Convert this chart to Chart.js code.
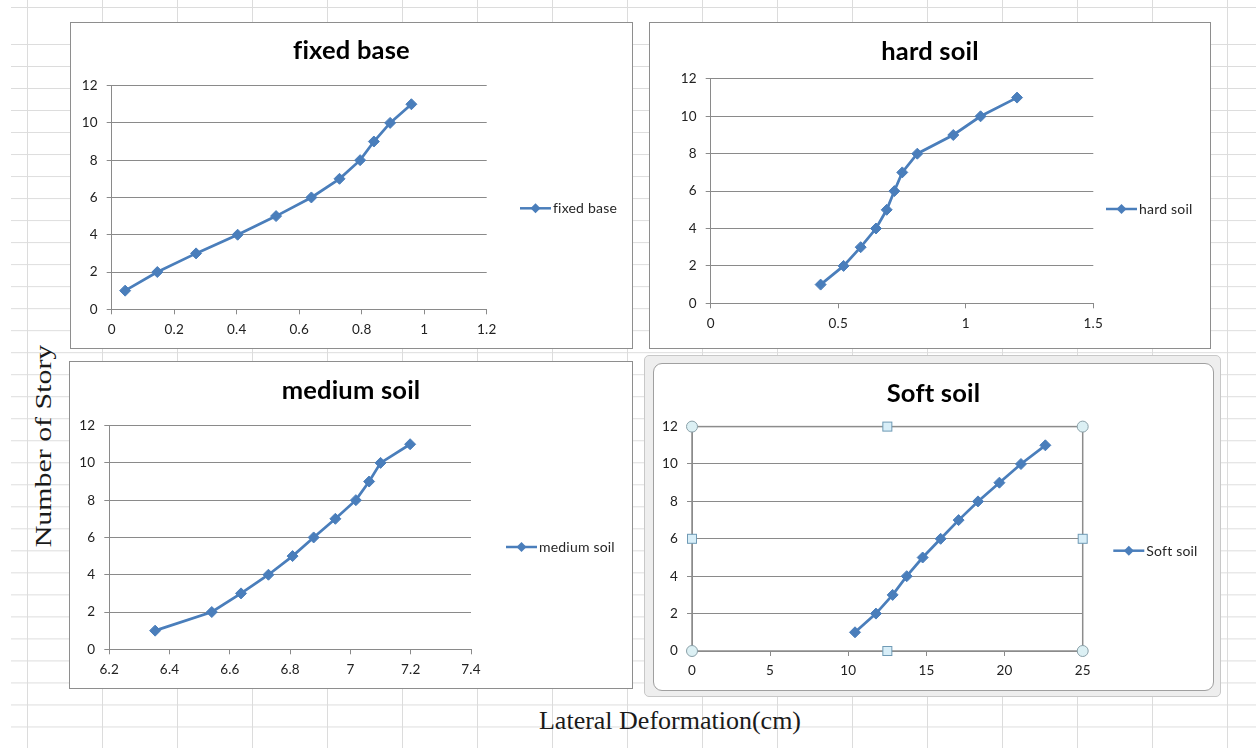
<!DOCTYPE html>
<html><head><meta charset="utf-8">
<script src="https://cdn.jsdelivr.net/npm/chart.js@4.4.1/dist/chart.umd.min.js"></script>
<style>
html,body{margin:0;padding:0;width:1256px;height:748px;overflow:hidden;background:#fff;}
#sheet{position:absolute;left:0;top:0;width:1256px;height:748px;
 background-image:linear-gradient(to right,#dcdcdc 1px,transparent 1px);
 background-size:75px 100%;background-position:27px 0;}
#rows{position:absolute;left:11px;top:44px;right:0;bottom:0;
 background-image:linear-gradient(to bottom,#dcdcdc 1px,transparent 1px);
 background-size:100% 22.02px;}
#row0{position:absolute;left:11px;top:7px;right:0;height:1px;background:#dcdcdc;}
.box{position:absolute;background:#fff;border:1px solid #8e8e8e;box-sizing:border-box;}
.box canvas{position:absolute;left:0;top:0;}
#frame{position:absolute;left:644px;top:355px;width:577px;height:342px;box-sizing:border-box;
 background:#eeeeee;border:1px solid #c8c8c8;border-radius:5px;}
#box4{border-radius:9px;border-color:#a0a0a0;}
.title{position:absolute;font-family:"Liberation Serif","DejaVu Serif",serif;color:#1a1a1a;white-space:nowrap;line-height:1;}
#ytitle{left:43px;top:446px;font-size:23px;transform:translate(-50%,-50%) rotate(-90deg) scaleX(1.3);}
#xtitle{left:670px;top:721px;font-size:26px;transform:translate(-50%,-50%);}
</style></head>
<body>
<div id="sheet"></div><div id="rows"></div><div id="row0"></div>
<div class="box" style="left:70px;top:22px;width:563px;height:327px;"><canvas id="c1" width="561" height="325"></canvas></div>
<div class="box" style="left:649px;top:22px;width:562px;height:327px;"><canvas id="c2" width="560" height="325"></canvas></div>
<div class="box" style="left:69px;top:361px;width:564px;height:328px;"><canvas id="c3" width="562" height="326"></canvas></div>
<div id="frame"></div>
<div class="box" id="box4" style="left:653px;top:363px;width:561px;height:328px;"><canvas id="c4" width="559" height="326"></canvas></div>
<div class="title" id="ytitle">Number of Story</div>
<div class="title" id="xtitle">Lateral Deformation(cm)</div>
<script>
// ---- data ----
const stories = [1, 2, 3, 4, 5, 6, 7, 8, 9, 10, 11];
const fixedBase = [0.043, 0.146, 0.270, 0.403, 0.526, 0.639, 0.729, 0.795, 0.839, 0.891, 0.959];
const hardSoil = [0.431, 0.521, 0.588, 0.648, 0.690, 0.720, 0.751, 0.810, 0.951, 1.058, 1.201];
const mediumSoil = [6.352, 6.540, 6.637, 6.728, 6.808, 6.878, 6.950, 7.018, 7.062, 7.100, 7.198];
const softSoil = [10.43, 11.77, 12.84, 13.74, 14.76, 15.91, 17.06, 18.30, 19.67, 21.05, 22.61];
const seriesNames = ['fixed base', 'hard soil', 'medium soil', 'Soft soil'];
const yTicks = [0, 2, 4, 6, 8, 10, 12];
const fixedTicks = [0, 0.2, 0.4, 0.6, 0.8, 1, 1.2];
const hardTicks = [0, 0.5, 1, 1.5];
const mediumTicks = [6.2, 6.4, 6.6, 6.8, 7, 7.2, 7.4];
const softTicks = [0, 5, 10, 15, 20, 25];

const BLUE = '#4a7ebb';
const GRID = '#8a8a8a';
Chart.defaults.font.family = 'Lato, "Open Sans", sans-serif';

const noLigatures = {
  id: 'noLigatures',
  beforeDraw(chart) { try { chart.ctx.letterSpacing = '0.2px'; } catch (e) {} }
};

const xlLegend = {
  id: 'xlLegend',
  afterDraw(chart, args, o) {
    const ctx = chart.ctx, ds = chart.data.datasets[0];
    ctx.save();
    ctx.strokeStyle = BLUE; ctx.lineWidth = 2.5;
    ctx.beginPath(); ctx.moveTo(o.x, o.y); ctx.lineTo(o.x + 31, o.y); ctx.stroke();
    const cx = o.x + 15.5, r = 5;
    ctx.fillStyle = BLUE;
    ctx.beginPath(); ctx.moveTo(cx, o.y - r); ctx.lineTo(cx + r, o.y); ctx.lineTo(cx, o.y + r); ctx.lineTo(cx - r, o.y); ctx.closePath(); ctx.fill();
    ctx.fillStyle = '#262626'; ctx.font = '14px Lato, sans-serif'; ctx.textBaseline = 'middle';
    ctx.fillText(ds.label, o.x + 33, o.y + 0.5);
    ctx.restore();
  }
};

const xlSelect = {
  id: 'xlSelect',
  afterDraw(chart) {
    const ctx = chart.ctx, a = chart.chartArea;
    ctx.save();
    ctx.strokeStyle = '#8c8c8c'; ctx.lineWidth = 1.5;
    ctx.strokeRect(a.left, a.top, a.right - a.left, a.bottom - a.top);
    const mx = (a.left + a.right) / 2, my = (a.top + a.bottom) / 2;
    [[a.left, a.top], [a.right, a.top], [a.left, a.bottom], [a.right, a.bottom]].forEach(([x, y]) => {
      ctx.beginPath(); ctx.arc(x, y, 5.5, 0, Math.PI * 2);
      ctx.fillStyle = '#dcf0f4'; ctx.fill(); ctx.strokeStyle = '#8aa0a8'; ctx.lineWidth = 1; ctx.stroke();
    });
    [[mx, a.top], [mx, a.bottom], [a.left, my], [a.right, my]].forEach(([x, y]) => {
      ctx.fillStyle = '#d8eef8'; ctx.fillRect(x - 4.5, y - 4.5, 9, 9);
      ctx.strokeStyle = '#6f9ab5'; ctx.lineWidth = 1; ctx.strokeRect(x - 4.5, y - 4.5, 9, 9);
    });
    ctx.restore();
  }
};

function fmt(v) { return String(Math.round(v * 100) / 100); }

function makeChart(id, name, xs, xTicks, L, extra) {
  const pts = xs.map((x, i) => ({ x: x, y: stories[i] }));
  const plugins = [noLigatures, xlLegend];
  if (extra) plugins.push(extra);
  return new Chart(document.getElementById(id), {
    type: 'scatter',
    data: { datasets: [{
      label: name, data: pts, showLine: true,
      borderColor: BLUE, backgroundColor: BLUE, borderWidth: 2.75,
      pointStyle: 'rectRot', pointRadius: 5.5, pointBorderWidth: 1, pointBorderColor: BLUE,
      tension: 0
    }]},
    plugins: plugins,
    options: {
      responsive: false, animation: false, devicePixelRatio: 1,
      layout: { padding: 0 },
      plugins: {
        legend: { display: false }, tooltip: { enabled: false },
        title: { display: true, text: name, color: '#000',
          font: { size: 25.5, weight: 'bold', family: 'Lato, sans-serif' },
          padding: { top: L.tTop, bottom: L.tBot } },
        xlLegend: { x: L.lx, y: L.ly }
      },
      scales: {
        x: {
          type: 'linear', min: xTicks[0], max: xTicks[xTicks.length - 1],
          afterBuildTicks: s => { s.ticks = xTicks.map(v => ({ value: v })); },
          afterFit: s => { s.height = L.xh; },
          grid: { drawOnChartArea: false, drawTicks: true, tickLength: 5, color: GRID },
          border: { display: true, color: GRID, width: 1 },
          ticks: { color: '#222', font: { size: 13.5 }, padding: 7, callback: fmt, maxRotation: 0 }
        },
        y: {
          type: 'linear', min: 0, max: 12,
          afterBuildTicks: s => { s.ticks = yTicks.map(v => ({ value: v })); },
          afterFit: s => { s.width = L.yw; },
          grid: { drawOnChartArea: true, drawTicks: true, tickLength: 5, color: GRID },
          border: { display: true, color: GRID, width: 1 },
          ticks: { color: '#222', font: { size: 13.5 }, padding: 9, callback: fmt }
        },
        legendSpace: {
          type: 'linear', axis: 'y', position: 'right', display: true,
          afterFit: s => { s.width = L.right; },
          grid: { display: false }, border: { display: false }, ticks: { display: false }
        }
      }
    }
  });
}

makeChart('c1', seriesNames[0], fixedBase, fixedTicks,
  { right: 145.3, tTop: 12.2, tBot: 19.8, xh: 38.7, yw: 40.7, lx: 449, ly: 185.3 });
makeChart('c2', seriesNames[1], hardSoil, hardTicks,
  { right: 116.7, tTop: 13, tBot: 12.3, xh: 44.7, yw: 60.7, lx: 456, ly: 186 });
makeChart('c3', seriesNames[2], mediumSoil, mediumTicks,
  { right: 161, tTop: 13.2, tBot: 19.8, xh: 38.7, yw: 39.3, lx: 436, ly: 185 });
makeChart('c4', seriesNames[3], softSoil, softTicks,
  { right: 130.3, tTop: 14, tBot: 18, xh: 39, yw: 38, lx: 459.3, ly: 186.7 }, xlSelect);
</script>
</body></html>
